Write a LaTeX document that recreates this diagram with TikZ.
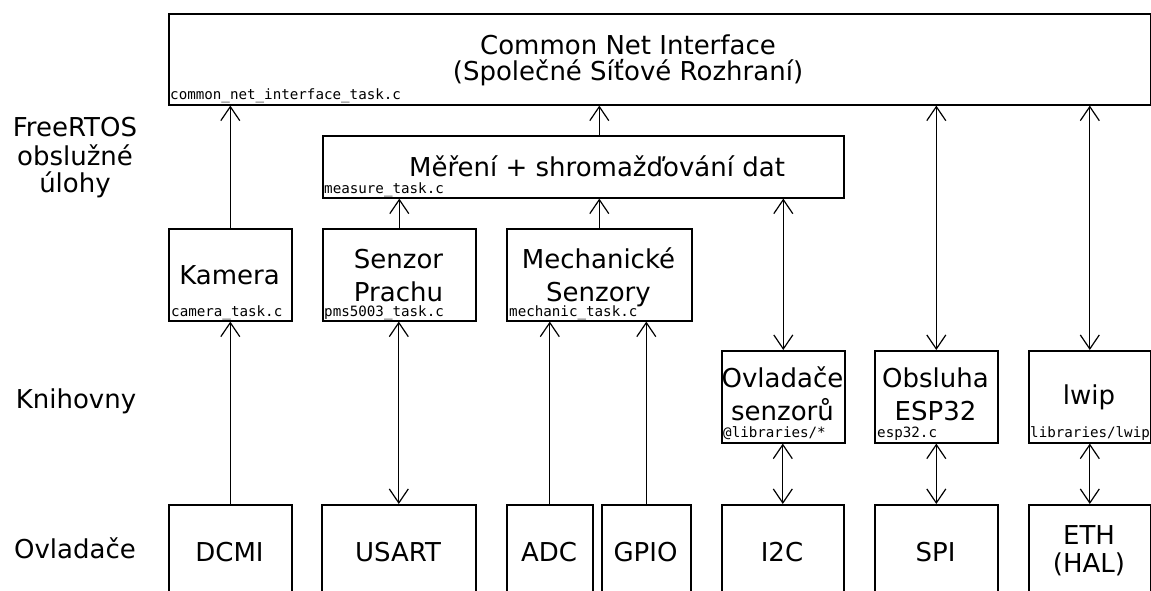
\documentclass[tikz,border=0pt]{standalone}
\usepackage{fontspec}
\setmainfont{DejaVu Sans}
\newfontfamily\monof{DejaVu Sans Mono}
\usetikzlibrary{arrows.meta}
\begin{document}
\begin{tikzpicture}[x=1pt,y=-1pt,
  box/.style={draw, line width=1.6pt, inner sep=0pt, anchor=north west},
  lbl/.style={font=\fontsize{26}{30}\selectfont, anchor=base, inner sep=0pt},
  fn/.style={font=\monof\fontsize{14.2}{16}\selectfont, anchor=base west, inner sep=0pt},
  tip/.tip={Straight Barb[length=14pt,width=19pt,line width=1.2pt]},
  arr/.style={line width=1.2pt, -tip},
  darr/.style={line width=1.2pt, tip-tip}]
\useasboundingbox (0,0) rectangle (1151,591);
\clip (0,0) rectangle (1151,591);

% boxes
\node[box, minimum width=982pt, minimum height=91pt] (cni) at (168,13) {};
\node[box, minimum width=521pt, minimum height=62pt] (meas) at (322,135) {};
\node[box, minimum width=123pt, minimum height=92pt] (kam) at (168,228) {};
\node[box, minimum width=153pt, minimum height=92pt] (pms) at (322,228) {};
\node[box, minimum width=185pt, minimum height=92pt] (mech) at (506,228) {};
\node[box, minimum width=123pt, minimum height=92pt] (ovl) at (721,350) {};
\node[box, minimum width=123pt, minimum height=92pt] (esp) at (874,350) {};
\node[box, minimum width=122pt, minimum height=92pt] (lwip) at (1028,350) {};
\node[box, minimum width=123pt, minimum height=110pt] (dcmi) at (168,504) {};
\node[box, minimum width=154pt, minimum height=110pt] (usart) at (321,504) {};
\node[box, minimum width=86pt, minimum height=110pt] (adc) at (506,504) {};
\node[box, minimum width=89pt, minimum height=110pt] (gpio) at (601,504) {};
\node[box, minimum width=122pt, minimum height=110pt] (i2c) at (721,504) {};
\node[box, minimum width=123pt, minimum height=110pt] (spi) at (874,504) {};
\node[box, minimum width=122pt, minimum height=110pt] (eth) at (1028,504) {};

% main texts
\node[lbl] (tcni1) at (628,55) {Common Net Interface};
\node[lbl] (tcni2) at (628,81) {(Společné Síťové Rozhraní)};
\node[lbl] (tmeas) at (597,176) {Měření + shromažďování dat};
\node[lbl] (tkam) at (229.5,284) {Kamera};
\node[lbl] (tpms1) at (398.5,268) {Senzor};
\node[lbl] (tpms2) at (398.5,301) {Prachu};
\node[lbl] (tmech1) at (598.5,268) {Mechanické};
\node[lbl] (tmech2) at (598.5,301) {Senzory};
\node[lbl] (tovl1) at (782.5,387) {Ovladače};
\node[lbl] (tovl2) at (782.5,420) {senzorů};
\node[lbl] (tesp1) at (935.5,387) {Obsluha};
\node[lbl] (tesp2) at (935.5,420) {ESP32};
\node[lbl] (tlwip) at (1089,404) {lwip};
\node[lbl] (tdcmi) at (229.5,561) {DCMI};
\node[lbl] (tusart) at (398,561) {USART};
\node[lbl] (tadc) at (549,561) {ADC};
\node[lbl] (tgpio) at (645.5,561) {GPIO};
\node[lbl] (ti2c) at (782,561) {I2C};
\node[lbl] (tspi) at (935.5,561) {SPI};
\node[lbl] (teth1) at (1089,544) {ETH};
\node[lbl] (teth2) at (1089,572) {(HAL)};

% layer labels
\node[lbl] (lfr1) at (75,137) {FreeRTOS};
\node[lbl] (lfr2) at (75,165) {obslužné};
\node[lbl] (lfr3) at (75,192) {úlohy};
\node[lbl] (lkni) at (76,408) {Knihovny};
\node[lbl] (lovl) at (75,558) {Ovladače};

% file labels
\node[fn] (fcni) at (170,100) {common\_net\_interface\_task.c};
\node[fn] (fmeas) at (324,193) {measure\_task.c};
\node[fn] (fkam) at (171,316) {camera\_task.c};
\node[fn] (fpms) at (324,316) {pms5003\_task.c};
\node[fn] (fmech) at (509,316) {mechanic\_task.c};
\node[fn] (fovl) at (723,437) {@libraries/*};
\node[fn] (fesp) at (877,437) {esp32.c};
\node[fn] (flwip) at (1030,437) {libraries/lwip};

% connectors
\draw[arr] (kam.north) -- (kam.north |- cni.south);
\draw[arr] (meas.north -| mech.north) -- (mech.north |- cni.south);
\draw[arr] (pms.north) -- (pms.north |- meas.south);
\draw[arr] (mech.north) -- (mech.north |- meas.south);
\draw[darr] (ovl.north |- meas.south) -- (ovl.north);
\draw[darr] (esp.north |- cni.south) -- (esp.north);
\draw[darr] (lwip.north |- cni.south) -- (lwip.north);
\draw[arr] (dcmi.north) -- (dcmi.north |- kam.south);
\draw[darr] (usart.north) -- (usart.north |- pms.south);
\draw[arr] (adc.north) -- (adc.north |- mech.south);
\draw[arr] (gpio.north) -- (gpio.north |- mech.south);
\draw[darr] (i2c.north) -- (i2c.north |- ovl.south);
\draw[darr] (spi.north) -- (spi.north |- esp.south);
\draw[darr] (eth.north) -- (eth.north |- lwip.south);
\end{tikzpicture}
\end{document}
